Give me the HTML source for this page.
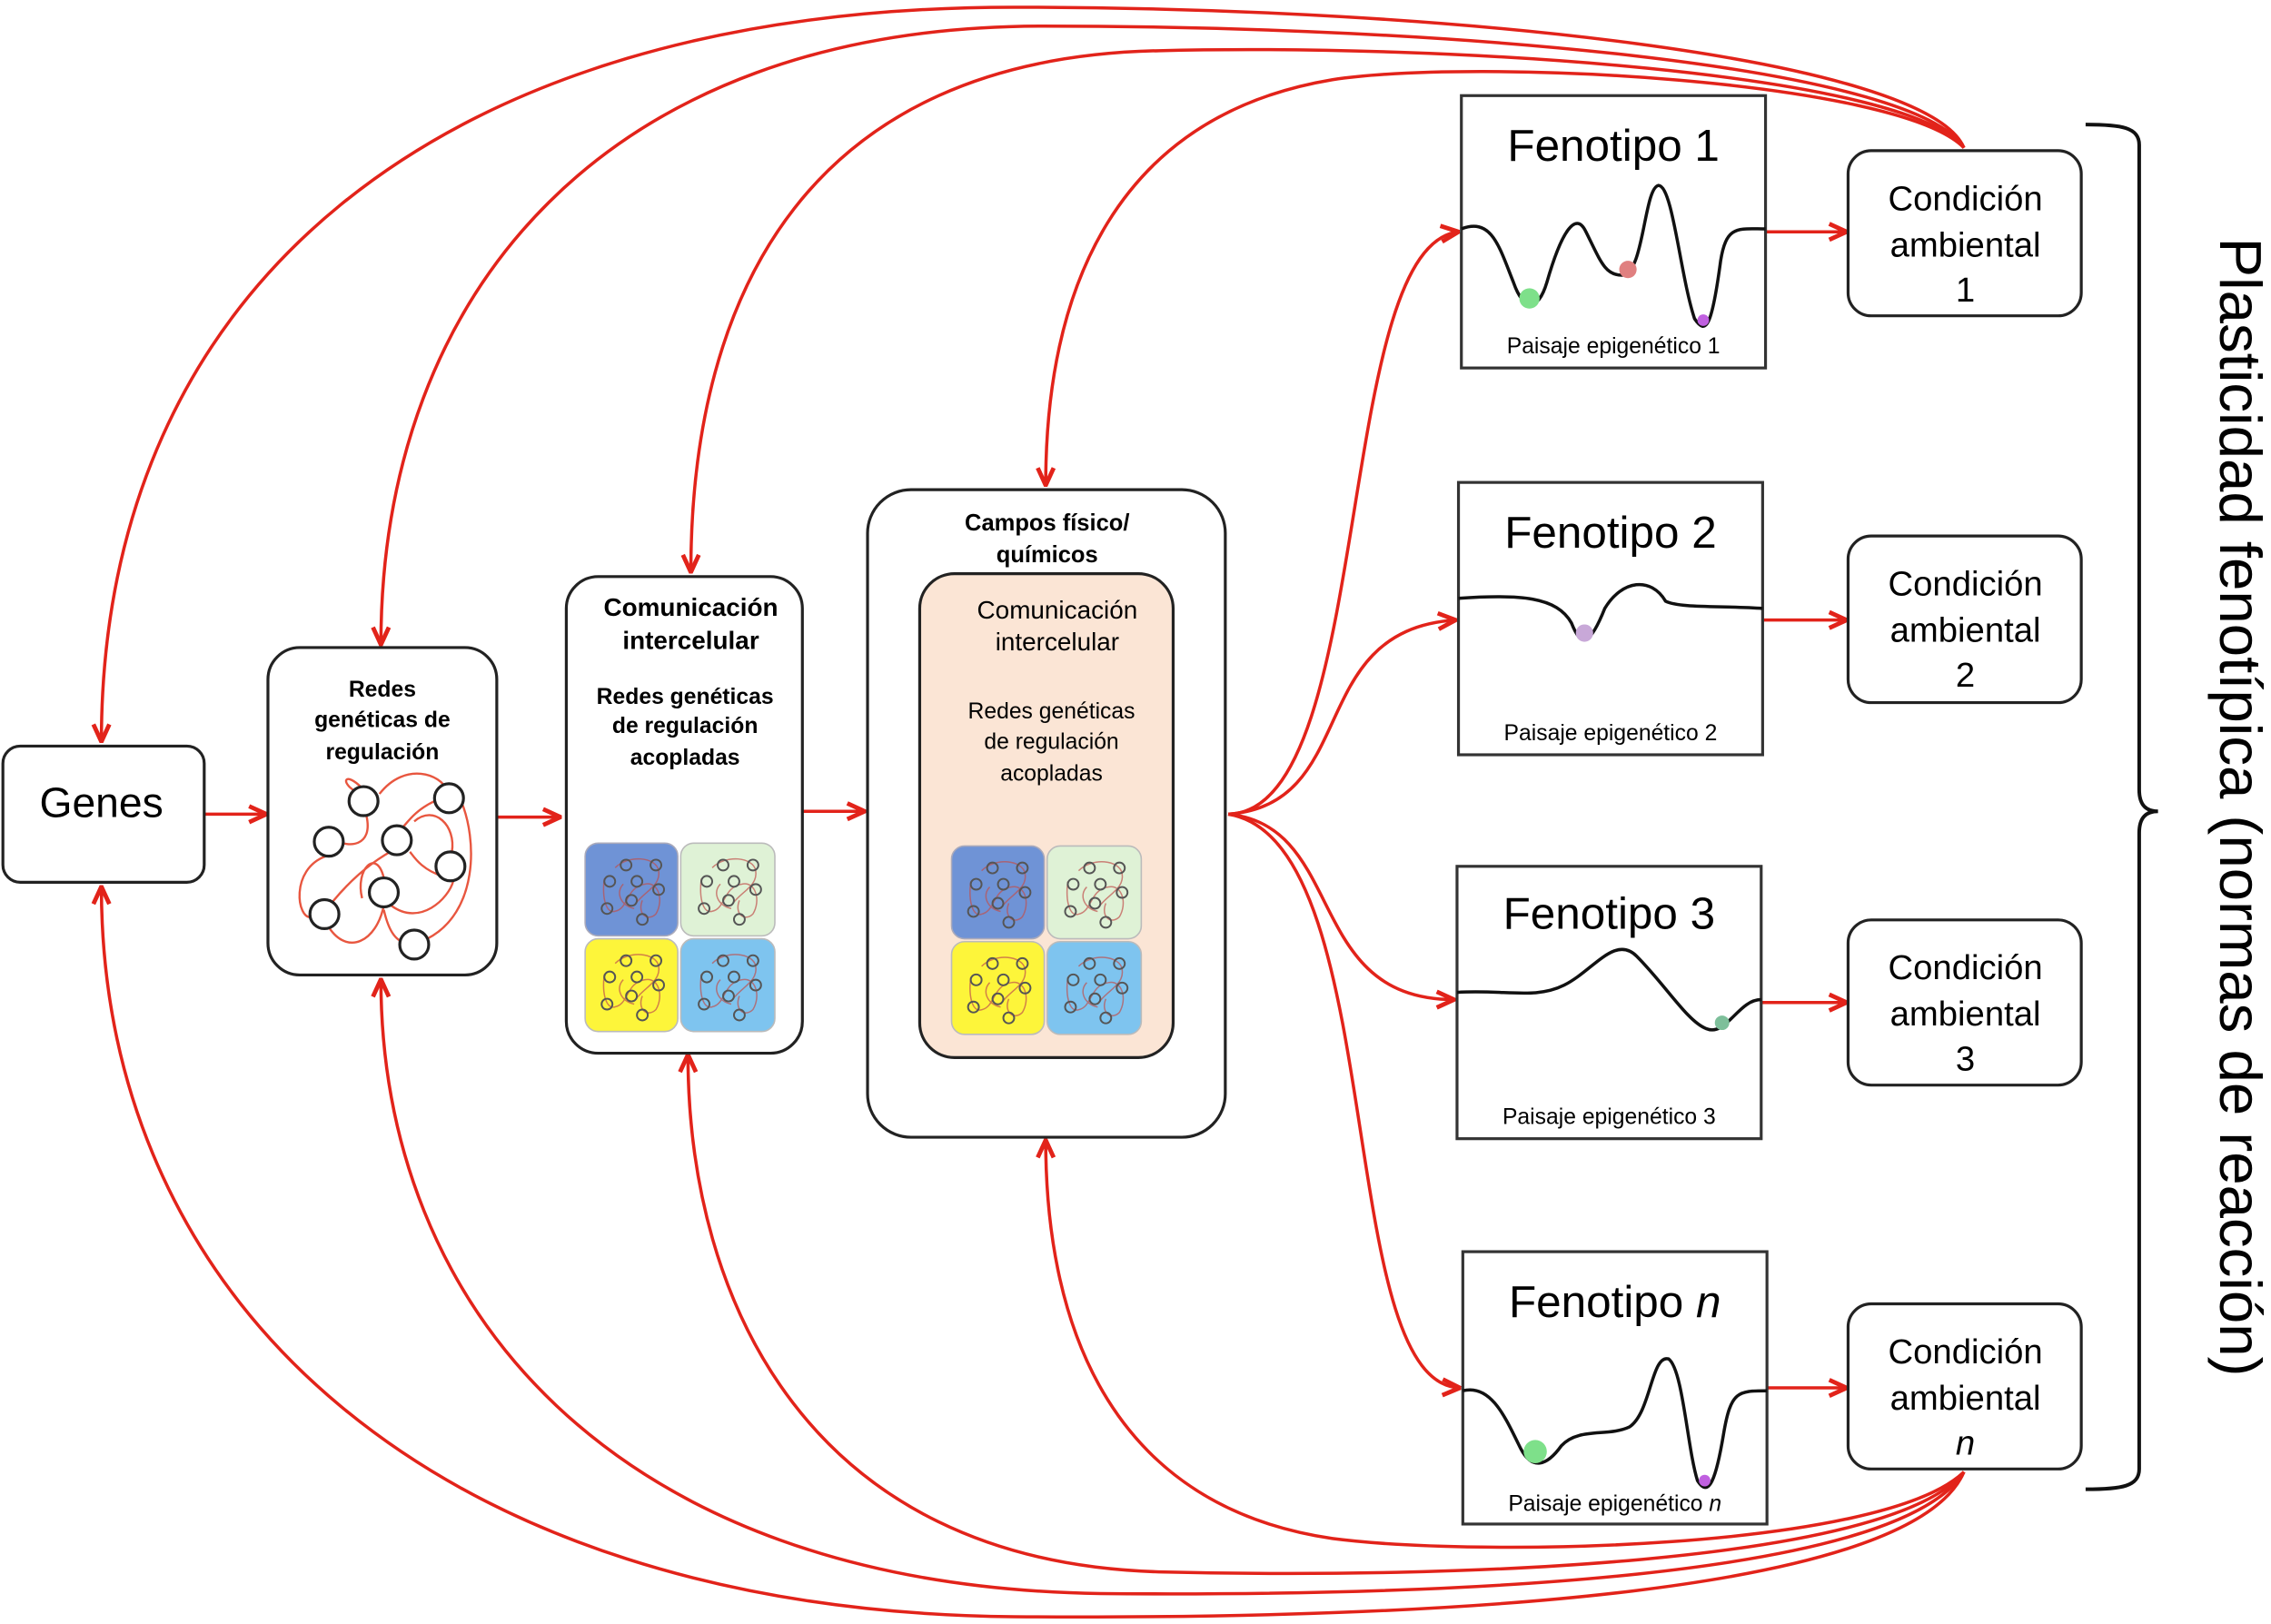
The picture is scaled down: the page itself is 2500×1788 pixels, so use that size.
<!DOCTYPE html>
<html><head><meta charset="utf-8"><style>
html,body{margin:0;padding:0;background:#fff;}
svg{display:block;}
text{font-family:"Liberation Sans",sans-serif;fill:#000;}
</style></head><body>
<svg width="2500" height="1788" viewBox="0 0 1568 1121" preserveAspectRatio="none" xmlns="http://www.w3.org/2000/svg">
<defs>
<marker id="ar" viewBox="0 0 14 14" refX="13" refY="7" markerWidth="14" markerHeight="14" markerUnits="userSpaceOnUse" orient="auto">
<path d="M1,1.5 L13,7 L1,12.5" fill="none" stroke="#e2231a" stroke-width="3"/>
</marker>
<symbol id="net" viewBox="0 0 64 64">
<g fill="none" stroke="#c0504d" stroke-width="1" opacity="0.7">
<path d="M12,24 C10,40 14,50 20,48 C30,46 28,30 42,28 C52,26 56,40 50,50 C44,56 36,50 40,40"/>
<path d="M20,16 C30,6 50,8 52,18 C54,30 40,34 34,44"/>
<path d="M26,28 C20,34 24,44 34,46"/>
</g>
<g fill="none" stroke="#555" stroke-width="1.3">
<circle cx="28" cy="14" r="4"/><circle cx="50" cy="14" r="4"/><circle cx="16" cy="26" r="4"/>
<circle cx="36" cy="26" r="4"/><circle cx="52" cy="32" r="4"/><circle cx="32" cy="40" r="4"/>
<circle cx="14" cy="46" r="4"/><circle cx="40" cy="54" r="4"/>
</g>
</symbol>
</defs>

<g fill="none" stroke="#e2231a" stroke-width="2.2" marker-end="url(#ar)">
<path d="M1356,102 C1330,40 1000,5 700,5 C300,5 70,200 70,512"/>
<path d="M1356,102 C1320,45 1000,18 720,18 C420,18 263,200 263,445"/>
<path d="M1356,102 C1315,50 1000,30 800,35 C560,40 477,200 477,395"/>
<path d="M1356,102 C1310,55 1020,40 920,55 C770,80 722,200 722,335"/>
<path d="M1356,1016 C1320,1100 1000,1118 700,1116 C300,1112 70,900 70,612"/>
<path d="M1356,1016 C1310,1090 1000,1102 760,1100 C420,1095 263,900 263,676"/>
<path d="M1356,1016 C1305,1080 1000,1090 800,1085 C560,1078 475,900 475,728"/>
<path d="M1356,1016 C1300,1070 1020,1075 920,1062 C770,1040 722,920 722,787"/>
<path d="M141,562 L184,562"/>
<path d="M343,564 L387,564"/>
<path d="M554,560 L597,560"/>
<path d="M848,562 C950,560 920,170 1007,160"/>
<path d="M848,562 C940,555 900,435 1005,428"/>
<path d="M848,562 C930,570 900,690 1004,690"/>
<path d="M848,562 C960,580 920,955 1008,958"/>
<path d="M1219,160 L1275,160"/>
<path d="M1217,428 L1275,428"/>
<path d="M1216,692 L1275,692"/>
<path d="M1220,958 L1275,958"/>
</g>

<rect x="2" y="515" width="139" height="94" rx="12" fill="#fff" stroke="#222" stroke-width="2"/>
<text x="70" y="564" font-size="29" text-anchor="middle">Genes</text>

<rect x="185" y="447" width="158" height="226" rx="22" fill="#fff" stroke="#222" stroke-width="2"/>
<g font-size="15.5" font-weight="bold" text-anchor="middle">
<text x="264" y="481">Redes</text><text x="264" y="502">genéticas de</text><text x="264" y="524">regulación</text>
</g>
<g fill="none" stroke="#e8563f" stroke-width="1.5">
<path d="M245,546 C235,540 238,532 250,544"/>
<path d="M262,548 C280,525 305,535 308,545"/>
<path d="M253,563 C258,585 240,585 232,580"/>
<path d="M225,591 C200,600 205,635 215,633"/>
<path d="M300,553 C285,560 280,570 277,572"/>
<path d="M286,567 C300,555 315,570 312,588"/>
<path d="M318,552 C330,580 330,630 295,648"/>
<path d="M306,605 C290,600 285,590 283,588"/>
<path d="M227,640 C240,660 260,650 265,625"/>
<path d="M265,606 C260,585 245,600 250,620"/>
<path d="M270,625 C290,640 310,620 313,608"/>
<path d="M275,585 C255,595 240,610 230,622"/>
<path d="M265,628 C270,650 280,655 285,645"/>
</g>
<g fill="#fff" stroke="#222" stroke-width="2">
<circle cx="251" cy="553" r="10"/><circle cx="310" cy="551" r="10"/><circle cx="227" cy="581" r="10"/>
<circle cx="274" cy="580" r="10"/><circle cx="311" cy="598" r="10"/><circle cx="265" cy="616" r="10"/>
<circle cx="224" cy="631" r="10"/><circle cx="286" cy="652" r="10"/>
</g>

<rect x="391" y="398" width="163" height="329" rx="22" fill="#fff" stroke="#222" stroke-width="2"/>
<g text-anchor="middle" font-weight="bold">
<text x="477" y="425" font-size="17.5">Comunicación</text><text x="477" y="448" font-size="17.5">intercelular</text>
<text x="473" y="486" font-size="15.5">Redes genéticas</text><text x="473" y="506" font-size="15.5">de regulación</text><text x="473" y="528" font-size="15.5">acopladas</text>
</g>
<rect x="404" y="582" width="64" height="64" rx="9" fill="#6f93d6" stroke="#aab" stroke-width="1"/>
<rect x="470" y="582" width="65" height="64" rx="9" fill="#dff2d6" stroke="#bbb" stroke-width="1"/>
<rect x="404" y="648" width="64" height="64" rx="9" fill="#fdf53a" stroke="#bbb" stroke-width="1"/>
<rect x="470" y="648" width="65" height="64" rx="9" fill="#7ec4ef" stroke="#bbb" stroke-width="1"/>
<use href="#net" x="406" y="584" width="60" height="60"/>
<use href="#net" x="473" y="584" width="60" height="60"/>
<use href="#net" x="406" y="650" width="60" height="60"/>
<use href="#net" x="473" y="650" width="60" height="60"/>

<rect x="599" y="338" width="247" height="447" rx="30" fill="#fff" stroke="#222" stroke-width="2"/>
<g text-anchor="middle" font-size="16" font-weight="bold">
<text x="723" y="366">Campos físico/</text><text x="723" y="388">químicos</text>
</g>
<rect x="635" y="396" width="175" height="334" rx="24" fill="#fbe5d5" stroke="#222" stroke-width="2"/>
<g text-anchor="middle">
<text x="730" y="427" font-size="17.5">Comunicación</text><text x="730" y="449" font-size="17.5">intercelular</text>
<text x="726" y="496" font-size="15.5">Redes genéticas</text><text x="726" y="517" font-size="15.5">de regulación</text><text x="726" y="539" font-size="15.5">acopladas</text>
</g>
<rect x="657" y="584" width="64" height="64" rx="9" fill="#6f93d6" stroke="#aab" stroke-width="1"/>
<rect x="723" y="584" width="65" height="64" rx="9" fill="#dff2d6" stroke="#bbb" stroke-width="1"/>
<rect x="657" y="650" width="64" height="64" rx="9" fill="#fdf53a" stroke="#bbb" stroke-width="1"/>
<rect x="723" y="650" width="65" height="64" rx="9" fill="#7ec4ef" stroke="#bbb" stroke-width="1"/>
<use href="#net" x="659" y="586" width="60" height="60"/>
<use href="#net" x="726" y="586" width="60" height="60"/>
<use href="#net" x="659" y="652" width="60" height="60"/>
<use href="#net" x="726" y="652" width="60" height="60"/>

<g fill="#fff" stroke="#333" stroke-width="2">
<rect x="1009" y="66" width="210" height="188"/>
<rect x="1007" y="333" width="210" height="188"/>
<rect x="1006" y="598" width="210" height="188"/>
<rect x="1010" y="864" width="210" height="188"/>
</g>
<g font-size="31" text-anchor="middle">
<text x="1114" y="111">Fenotipo  1</text>
<text x="1112" y="378">Fenotipo  2</text>
<text x="1111" y="641">Fenotipo  3</text>
<text x="1115" y="909">Fenotipo <tspan font-style="italic">n</tspan></text>
</g>
<g font-size="15.5" text-anchor="middle">
<text x="1114" y="244">Paisaje epigenético 1</text>
<text x="1112" y="511">Paisaje epigenético 2</text>
<text x="1111" y="776">Paisaje epigenético 3</text>
<text x="1115" y="1043">Paisaje epigenético <tspan font-style="italic">n</tspan></text>
</g>
<g fill="none" stroke="#111" stroke-width="2.2">
<path d="M1009,158 C1030,150 1035,170 1045,195 C1052,215 1062,215 1068,195 C1078,160 1088,145 1095,160 C1105,180 1108,190 1120,190 C1135,190 1135,130 1145,128 C1155,128 1160,190 1170,220 C1178,232 1182,225 1188,180 C1192,155 1200,158 1219,158"/>
<path d="M1007,413 C1050,410 1075,412 1085,430 C1092,448 1098,445 1108,420 C1120,400 1140,398 1150,415 C1160,420 1190,418 1217,420"/>
<path d="M1006,685 C1040,683 1060,690 1080,680 C1100,670 1115,645 1130,660 C1150,680 1165,705 1178,710 C1192,716 1200,690 1216,690"/>
<path d="M1010,960 C1030,955 1040,980 1050,1000 C1058,1015 1068,1012 1078,998 C1090,985 1110,992 1125,985 C1140,975 1140,935 1152,938 C1162,945 1165,1000 1172,1022 C1180,1035 1185,1020 1190,990 C1195,960 1200,960 1220,960"/>
</g>
<circle cx="1056" cy="206" r="7" fill="#7ee08a"/>
<circle cx="1124" cy="186" r="6" fill="#e08080"/>
<circle cx="1176" cy="221" r="4" fill="#c060e0"/>
<circle cx="1094" cy="437" r="6" fill="#c8a8d8"/>
<circle cx="1189" cy="706" r="5" fill="#7dbf9a"/>
<circle cx="1060" cy="1002" r="8" fill="#7ee08a"/>
<circle cx="1177" cy="1022" r="4" fill="#c060e0"/>

<g fill="#fff" stroke="#222" stroke-width="2">
<rect x="1276" y="104" width="161" height="114" rx="16"/>
<rect x="1276" y="370" width="161" height="115" rx="16"/>
<rect x="1276" y="635" width="161" height="114" rx="16"/>
<rect x="1276" y="900" width="161" height="114" rx="16"/>
</g>
<g font-size="24" text-anchor="middle">
<text x="1357" y="145">Condición</text><text x="1357" y="177">ambiental</text><text x="1357" y="208">1</text>
<text x="1357" y="411">Condición</text><text x="1357" y="443">ambiental</text><text x="1357" y="474">2</text>
<text x="1357" y="676">Condición</text><text x="1357" y="708">ambiental</text><text x="1357" y="739">3</text>
<text x="1357" y="941">Condición</text><text x="1357" y="973">ambiental</text><text x="1357" y="1004" font-style="italic">n</text>
</g>

<path d="M1440,86 C1465,86 1477,88 1477,100 L1477,545 C1477,556 1482,560 1490,560 C1482,560 1477,564 1477,575 L1477,1014 C1477,1026 1465,1028 1440,1028" fill="none" stroke="#111" stroke-width="2.5"/>

<text x="0" y="0" font-size="41" text-anchor="middle" transform="translate(1533,557) rotate(90)">Plasticidad fenotípica (normas de reacción)</text>
</svg>
</body></html>
